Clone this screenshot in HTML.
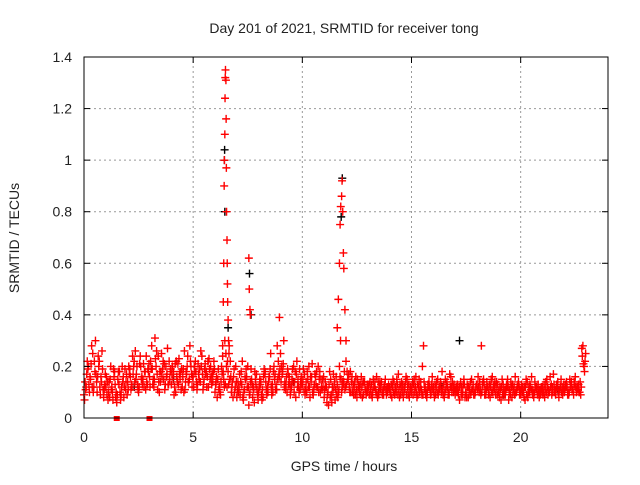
<!DOCTYPE html>
<html><head><meta charset="utf-8"><style>
body{margin:0;background:#fff}
svg text{font-family:"Liberation Sans",sans-serif;font-size:14px;fill:#222}
</style></head><body>
<svg id="c" width="640" height="480" xmlns="http://www.w3.org/2000/svg">
<rect width="640" height="480" fill="#fff"/>
<g id="grid"></g>
<g id="marks"></g>
<rect x="84" y="57" width="524" height="361" fill="none" stroke="#000"/>
<g id="ticks"></g>
<text x="344" y="33" text-anchor="middle">Day 201 of 2021, SRMTID for receiver tong</text>
<text x="344" y="471" text-anchor="middle">GPS time / hours</text>
<text transform="translate(19,238) rotate(-90)" text-anchor="middle">SRMTID / TECUs</text>
</svg>
<script>
const xTicks=[0,5,10,15,20];
const yTicks=[0,0.2,0.4,0.6,0.8,1,1.2,1.4];
const yTickLabels=["0","0.2","0.4","0.6","0.8","1","1.2","1.4"];
const sampleStep=0.1;
const seriesA=[.09,.12,.20,.15,.25,.18,.10,.22,.14,.08,
.12,.07,.15,.10,.18,.06,.13,.09,.16,.11,
.14,.19,.12,.22,.17,.10,.20,.15,.18,.13,
.16,.28,.12,.20,.24,.14,.19,.11,.17,.22,
.13,.18,.10,.21,.15,.12,.26,.17,.14,.20,
.16,.22,.13,.19,.24,.15,.18,.12,.20,.14,
.10,.08,.12,.20,.15,.25,.18,.22,.14,.10,
.08,.12,.18,.07,.15,.20,.10,.13,.06,.17,
.10,.14,.08,.18,.12,.16,.09,.20,.13,.22,
.25,.18,.14,.10,.16,.12,.20,.08,.15,.11,
.13,.17,.10,.20,.14,.09,.16,.12,.18,.11,
.08,.12,.05,.15,.10,.07,.13,.20,.10,.14,
.22,.15,.18,.10,.14,.08,.12,.16,.09,.11,
.10,.14,.08,.12,.16,.09,.13,.11,.15,.10,
.12,.08,.14,.10,.17,.09,.13,.11,.15,.08,
.10,.13,.16,.09,.12,.20,.11,.08,.14,.10,
.12,.09,.15,.11,.18,.08,.13,.10,.16,.12,
.09,.13,.07,.12,.15,.10,.08,.14,.11,.09,
.13,.10,.28,.15,.09,.12,.08,.16,.11,.14,
.10,.07,.13,.09,.15,.11,.08,.12,.10,.14,
.09,.12,.07,.14,.10,.16,.08,.11,.13,.09,
.12,.08,.15,.10,.13,.17,.09,.14,.11,.12,
.10,.14,.09,.13,.11,.16,.12,.10,.27,.20];
const seriesB=[.14,.22,.10,.28,.12,.17,.24,.09,.19,.13,
.09,.14,.11,.19,.08,.15,.10,.20,.12,.17,
.20,.11,.17,.26,.13,.21,.16,.12,.24,.18,
.22,.13,.31,.17,.10,.25,.15,.20,.13,.18,
.20,.12,.16,.23,.11,.19,.14,.24,.28,.12,
.20,.14,.17,.26,.11,.21,.16,.19,.13,.22,
.14,.19,.09,.24,.30,.12,.28,.10,.16,.20,
.14,.09,.22,.11,.16,.05,.19,.12,.15,.09,
.15,.07,.19,.11,.14,.25,.10,.17,.28,.16,
.20,.30,.13,.17,.09,.19,.14,.22,.10,.16,
.19,.11,.15,.08,.21,.13,.18,.10,.15,.12,
.14,.09,.18,.06,.12,.16,.10,.30,.14,.11,
.18,.12,.14,.09,.16,.11,.13,.08,.14,.10,
.13,.09,.15,.11,.08,.14,.10,.12,.09,.13,
.09,.15,.11,.13,.08,.14,.10,.16,.09,.12,
.14,.10,.08,.15,.11,.28,.09,.13,.11,.16,
.08,.14,.11,.13,.09,.15,.12,.17,.10,.13,
.12,.09,.14,.10,.08,.13,.11,.15,.09,.12,
.16,.11,.13,.09,.14,.10,.15,.12,.09,.13,
.12,.15,.09,.13,.07,.14,.10,.16,.12,.09,
.13,.08,.15,.10,.12,.09,.14,.11,.08,.12,
.10,.14,.09,.16,.12,.10,.13,.08,.15,.11,
.13,.09,.15,.11,.14,.10,.13,.09,.28,.22];
const seriesC=[.07,.17,.13,.21,.10,.30,.16,.12,.26,.11,
.16,.10,.20,.07,.13,.09,.18,.12,.08,.14,
.11,.16,.24,.14,.20,.12,.15,.21,.11,.19,
.12,.19,.15,.26,.14,.18,.22,.13,.27,.15,
.17,.09,.22,.13,.18,.16,.11,.20,.15,.17,
.12,.18,.21,.14,.17,.19,.12,.23,.16,.18,
.13,.15,.10,.17,.12,.20,.13,.16,.08,.12,
.11,.17,.13,.10,.19,.12,.14,.08,.18,.11,
.12,.09,.16,.14,.10,.19,.13,.15,.11,.17,
.14,.21,.11,.19,.13,.15,.10,.17,.12,.14,
.15,.09,.18,.12,.16,.11,.13,.20,.10,.15,
.11,.06,.13,.09,.17,.11,.08,.16,.12,.18,
.13,.17,.10,.13,.09,.15,.10,.12,.14,.09,
.12,.11,.10,.14,.09,.12,.14,.09,.11,.12,
.10,.12,.09,.15,.11,.12,.08,.14,.12,.10,
.12,.15,.10,.12,.14,.09,.12,.10,.12,.13,
.10,.12,.09,.14,.11,.10,.14,.09,.12,.10,
.11,.10,.12,.09,.13,.08,.12,.10,.13,.10,
.11,.14,.10,.13,.11,.09,.12,.10,.14,.09,
.08,.12,.10,.11,.12,.09,.13,.09,.11,.12,
.11,.10,.12,.08,.13,.11,.10,.12,.10,.11,
.09,.11,.12,.10,.09,.13,.11,.10,.12,.09,
.11,.12,.10,.14,.09,.12,.11,.14,.24,.18];
const seriesD=[.11,.19,.16,.12,.22,.14,.20,.16,.11,.17,
.14,.08,.12,.16,.10,.18,.07,.14,.19,.09,
.17,.13,.20,.15,.11,.24,.13,.18,.14,.21,
.19,.15,.23,.11,.18,.16,.21,.16,.13,.19,
.15,.21,.14,.17,.19,.10,.18,.14,.22,.16,
.18,.11,.15,.20,.13,.17,.22,.15,.17,.19,
.16,.11,.14,.18,.13,.22,.15,.12,.19,.14,
.10,.14,.08,.16,.12,.09,.15,.11,.13,.07,
.13,.11,.17,.09,.16,.12,.18,.11,.15,.19,
.17,.12,.16,.13,.11,.14,.18,.12,.19,.13,
.11,.14,.12,.16,.10,.17,.12,.15,.12,.16,
.12,.10,.08,.12,.14,.09,.11,.15,.13,.12,
.15,.10,.16,.12,.11,.13,.09,.14,.11,.13,
.09,.13,.12,.10,.14,.11,.09,.13,.12,.11,
.13,.10,.12,.09,.13,.10,.12,.09,.13,.11,
.09,.12,.13,.10,.09,.14,.10,.12,.09,.11,
.13,.10,.12,.10,.13,.11,.09,.12,.14,.11,
.10,.12,.09,.13,.10,.12,.09,.11,.10,.13,
.12,.09,.14,.11,.12,.13,.10,.13,.12,.10,
.11,.09,.11,.12,.10,.12,.11,.10,.13,.11,
.10,.12,.09,.12,.11,.10,.12,.09,.11,.10,
.13,.10,.11,.12,.10,.11,.12,.11,.10,.13,
.12,.10,.12,.11,.13,.11,.10,.12,.21,.25];
const spikeTimes=[6.35,6.38,6.40,6.42,6.43,6.45,6.46,6.47,6.48,6.50,6.51,6.52,6.53,6.55,6.56,6.57,6.58,6.60,6.62,6.64,7.55,7.57,7.60,7.62,8.95,11.60,11.65,11.70,11.73,11.76,11.80,11.82,11.85,11.88,11.90,11.95,12.00];
const spikeValues=[.28,.45,.60,.90,1.0,1.10,1.24,1.32,1.35,1.31,1.16,.97,.80,.69,.60,.52,.45,.38,.30,.25,.62,.50,.42,.40,.39,.35,.46,.60,.75,.82,.86,.92,.80,.64,.58,.42,.30];
const blackTimes=[6.43,6.44,6.45,6.60,7.58,7.65,11.78,11.83,17.2,2.3,4.1,9.6,13.5,16.4,19.2,21.7];
const blackValues=[1.0,1.04,.80,.35,.56,.40,.78,.93,.30,.12,.15,.14,.10,.12,.09,.11];
const zeroTimes=[1.5,3.0];

const X0=84,X1=608,Y0=418,Y1=57,XMAX=24,YMAX=1.4;
const xs=t=>X0+t/XMAX*(X1-X0);
const ys=v=>Y0-v/YMAX*(Y0-Y1);
const NS="http://www.w3.org/2000/svg";
function mk(tag,parent,attrs){const e=document.createElementNS(NS,tag);for(const k in attrs)e.setAttribute(k,attrs[k]);parent.appendChild(e);return e;}
const grid=document.getElementById('grid'),ticks=document.getElementById('ticks'),marks=document.getElementById('marks');
xTicks.forEach(t=>{const x=xs(t);
 if(t>0){const g=mk('line',grid,{x1:x,x2:x,y1:Y0,y2:Y1,stroke:'#999','stroke-dasharray':'2,3'});
 
 }
 mk('line',ticks,{x1:x,x2:x,y1:Y0,y2:Y0-6,stroke:'#000'});
 mk('line',ticks,{x1:x,x2:x,y1:Y1,y2:Y1+6,stroke:'#000'});
 const l=mk('text',ticks,{x:x,y:Y0+24,'text-anchor':'middle'});l.textContent=t;
 
 
});
yTicks.forEach((v,i)=>{const y=ys(v);
 if(v>0&&v<YMAX){const g=mk('line',grid,{x1:X0,x2:X1,y1:y,y2:y,stroke:'#999','stroke-dasharray':'2,3'});
 
 }
 mk('line',ticks,{x1:X0,x2:X0+6,y1:y,y2:y,stroke:'#000'});
 mk('line',ticks,{x1:X1,x2:X1-6,y1:y,y2:y,stroke:'#000'});
 const l=mk('text',ticks,{x:X0-12,y:y+5,'text-anchor':'end'});l.textContent=yTickLabels[i];
 
 
});
function plus(t,v,col){const x=xs(t),y=ys(v);
 const p=mk('path',marks,{d:`M${x-4},${y}h8M${x},${y-4}v8`,stroke:col,'stroke-width':1.4});
 
 }
blackTimes.forEach((t,i)=>plus(t,blackValues[i],'#000'));
seriesA.forEach((v,i)=>plus(i*sampleStep,v,'#f00'));
seriesB.forEach((v,i)=>plus(i*sampleStep+0.05,v,'#f00'));
seriesC.forEach((v,i)=>plus(i*sampleStep+0.025,v,'#f00'));
seriesD.forEach((v,i)=>plus(i*sampleStep+0.075,v,'#f00'));
spikeTimes.forEach((t,i)=>plus(t,spikeValues[i],'#f00'));
zeroTimes.forEach(t=>{const r=mk('rect',marks,{x:xs(t)-3,y:Y0-2,width:6,height:5,fill:'#f00'});
 
 });
</script>
</body></html>
